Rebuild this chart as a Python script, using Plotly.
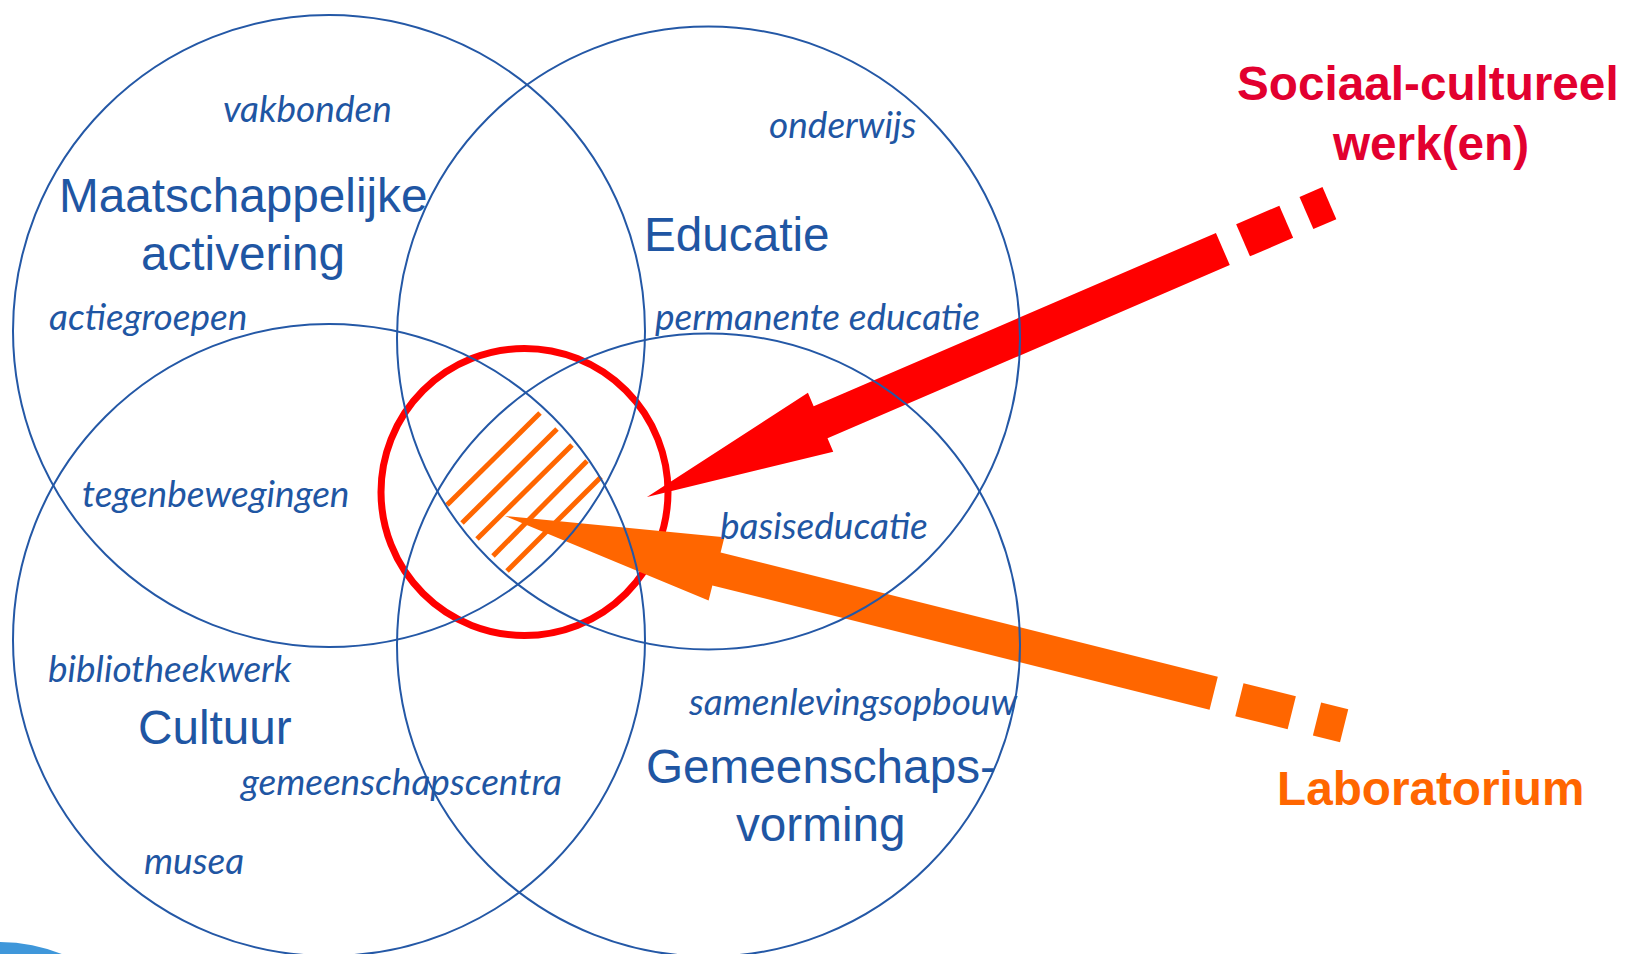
import numpy as np
import plotly.graph_objects as go

W, H = 1626, 954

# ---- Venn circles (centre x, centre y, radius) in pixel space ----
circle_names = ["Maatschappelijke activering", "Educatie", "Cultuur", "Gemeenschapsvorming"]
circle_cx = [329, 708.5, 329, 708.5]
circle_cy = [331, 338, 640, 645]
circle_r = [316, 311.5, 316, 311.5]

# ---- red focus circle ----
focus_cx, focus_cy, focus_r = 524.5, 492, 143.5

# ---- hatch lines in the central overlap ----
hatch_x0 = [540, 557, 572, 587, 601]
hatch_y0 = [413, 429, 445, 461, 477]
hatch_x1 = [447, 462, 477, 493, 507]
hatch_y1 = [505, 523, 539, 556, 571]

# ---- arrows: tip, direction angle (deg, screen), head length, head half width,
#      shaft half width, shaft end, dash segments ----
arrow_names = ["Sociaal-cultureel werk(en)", "Laboratorium"]
arrow_tip_x = [647, 505]
arrow_tip_y = [497, 516]
arrow_angle = [-23.3, 14.04]
arrow_head_len = [189, 218]
arrow_head_half = [32, 32.5]
arrow_shaft_half = [17.5, 17]
arrow_shaft_end = [627, 730.5]
arrow_dash_start = [[649, 718], [757, 837]]
arrow_dash_end = [[696, 743], [811, 865]]
arrow_colors = ["#FF0000", "#FF6600"]

# ---- texts ----
main_labels = ["Maatschappelijke", "activering", "Educatie", "Cultuur", "Gemeenschaps-", "vorming"]
main_x = [242.5, 243, 736.5, 214.5, 821, 821]
main_y = [195, 253, 234, 727, 766, 824]

sub_labels = ["vakbonden", "actiegroepen", "onderwijs", "permanente educatie", "tegenbewegingen",
              "basiseducatie", "bibliotheekwerk", "gemeenschapscentra", "musea", "samenlevingsopbouw"]
sub_x = [307.5, 148, 842, 817.5, 215.5, 823.5, 169.5, 400.5, 194, 852.5]
sub_y = [107, 315, 123, 315, 492, 524, 667, 780, 859, 700]

side_labels = ["Sociaal-cultureel", "werk(en)", "Laboratorium"]
side_x = [1428, 1430, 1430]
side_y = [83, 143, 788]
side_colors = ["#E2002F", "#E2002F", "#FF6600"]

BLUE = "#2458A6"
TEXT_BLUE = "#1F56A3"

fig = go.Figure()

# arrows as filled traces
for i in range(len(arrow_names)):
    a = np.deg2rad(arrow_angle[i])
    u = np.array([np.cos(a), np.sin(a)])
    n = np.array([-np.sin(a), np.cos(a)])
    tip = np.array([arrow_tip_x[i], arrow_tip_y[i]])
    L, Hh, h, E = arrow_head_len[i], arrow_head_half[i], arrow_shaft_half[i], arrow_shaft_end[i]
    local = [(0, 0), (L, -Hh), (L, -h), (E, -h), (E, h), (L, h), (L, Hh), (0, 0)]
    pts = np.array([tip + s * u + t * n for s, t in local])
    fig.add_trace(go.Scatter(x=pts[:, 0], y=pts[:, 1], mode="lines", fill="toself",
                             fillcolor=arrow_colors[i], line=dict(width=0, color=arrow_colors[i]),
                             hoverinfo="skip", showlegend=False))
    for s0, s1 in zip(arrow_dash_start[i], arrow_dash_end[i]):
        local = [(s0, -h), (s1, -h), (s1, h), (s0, h), (s0, -h)]
        pts = np.array([tip + s * u + t * n for s, t in local])
        fig.add_trace(go.Scatter(x=pts[:, 0], y=pts[:, 1], mode="lines", fill="toself",
                                 fillcolor=arrow_colors[i], line=dict(width=0, color=arrow_colors[i]),
                                 hoverinfo="skip", showlegend=False))

shapes = []
# decorative blue blob bottom-left
shapes.append(dict(type="circle", xref="x", yref="y", x0=-165, x1=165, y0=942, y1=1272,
                   fillcolor="#3F97DA", line=dict(width=0), layer="below"))
# red focus circle
shapes.append(dict(type="circle", xref="x", yref="y",
                   x0=focus_cx - focus_r, x1=focus_cx + focus_r,
                   y0=focus_cy - focus_r, y1=focus_cy + focus_r,
                   line=dict(color="#FF0000", width=7), layer="below"))
# hatch
for x0, y0, x1, y1 in zip(hatch_x0, hatch_y0, hatch_x1, hatch_y1):
    shapes.append(dict(type="line", xref="x", yref="y", x0=x0, y0=y0, x1=x1, y1=y1,
                       line=dict(color="#FF6600", width=5), layer="below"))
# blue venn circles on top
for cx, cy, r in zip(circle_cx, circle_cy, circle_r):
    shapes.append(dict(type="circle", xref="x", yref="y", x0=cx - r, x1=cx + r, y0=cy - r, y1=cy + r,
                       line=dict(color=BLUE, width=2), layer="above"))

annotations = []
for t, x, y in zip(main_labels, main_x, main_y):
    annotations.append(dict(text=t, x=x, y=y, xref="x", yref="y", showarrow=False,
                            xanchor="center", yanchor="middle",
                            font=dict(family="Liberation Sans, Arial", size=47.7, color=TEXT_BLUE)))
for t, x, y in zip(sub_labels, sub_x, sub_y):
    annotations.append(dict(text=t, x=x, y=y, xref="x", yref="y", showarrow=False,
                            xanchor="center", yanchor="middle",
                            font=dict(family="Lato", size=37, color=TEXT_BLUE, style="italic")))
for t, x, y, c in zip(side_labels, side_x, side_y, side_colors):
    annotations.append(dict(text=t, x=x, y=y, xref="x", yref="y", showarrow=False,
                            xanchor="center", yanchor="middle",
                            font=dict(family="Liberation Sans, Arial", size=47.7, color=c, weight="bold")))

fig.update_layout(
    width=W, height=H, margin=dict(l=0, r=0, t=0, b=0),
    paper_bgcolor="white", plot_bgcolor="white",
    xaxis=dict(range=[0, W], visible=False, fixedrange=True),
    yaxis=dict(range=[H, 0], visible=False, fixedrange=True),
    shapes=shapes, annotations=annotations, showlegend=False,
)
fig.write_html("out.html", config={"displayModeBar": False},
               post_script="document.body.style.margin='0';document.body.style.overflow='hidden';")
